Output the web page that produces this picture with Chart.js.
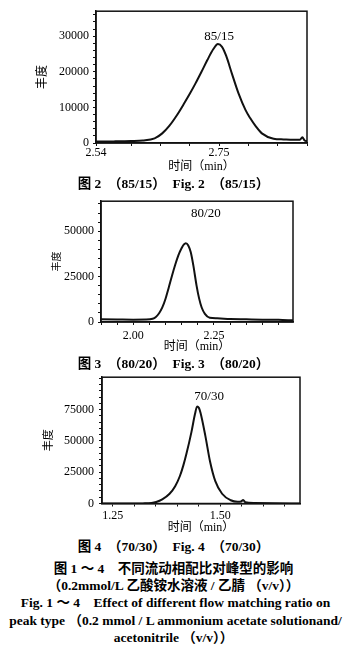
<!DOCTYPE html>
<html>
<head>
<meta charset="utf-8">
<script src="https://cdn.jsdelivr.net/npm/chart.js"></script>
<style>
body{margin:0;background:#fff;width:351px;height:647px;position:relative;overflow:hidden}
canvas{position:absolute;left:0}
.cap{position:absolute;left:0;width:351px;text-align:center;font:bold 13px "Liberation Serif","Noto Sans CJK SC";line-height:16px;white-space:pre;color:#000}
.big{font-size:13.5px}
</style>
</head>
<body>
<canvas id="c1" width="351" height="175" style="top:0"></canvas>
<canvas id="c2" width="351" height="165" style="top:190px"></canvas>
<canvas id="c3" width="351" height="170" style="top:365px"></canvas>

<div class="cap big" style="top:176px;left:-2px">图 2　（85/15）　Fig. 2　（85/15）</div>
<div class="cap big" style="top:356px;left:-2px">图 3　（80/20）　Fig. 3　（80/20）</div>
<div class="cap big" style="top:539px;left:-2px">图 4　（70/30）　Fig. 4　（70/30）</div>
<div class="cap big" style="top:561px;left:-2px">图 1 ～ 4　不同流动相配比对峰型的影响</div>
<div class="cap big" style="top:578px;left:-2px">（0.2mmol/L 乙酸铵水溶液 / 乙腈 （v/v））</div>
<div class="cap big" style="top:595px">Fig. 1 ～ 4　Effect of different flow matching ratio on</div>
<div class="cap big" style="top:613px">peak type （0.2 mmol / L ammonium acetate solutionand/</div>
<div class="cap big" style="top:630px;left:-2px">acetonitrile （v/v））</div>

<script>
// 85/15
var time1 = [2.54,2.57,2.60,2.62,2.64,2.653,2.665,2.678,2.69,2.70,2.71,2.72,2.73,2.74,2.748,2.755,2.762,2.772,2.783,2.795,2.803,2.813,2.823,2.843,2.86,2.877,2.888,2.892,2.896,2.90];
var abund1 = [400,450,550,700,1300,2700,4800,7800,11000,13800,16800,20000,23300,26300,27800,27000,24500,19400,14000,9300,7000,4600,2700,1200,1000,900,900,1600,700,500];
// 80/20
var time2 = [1.90,1.95,2.00,2.04,2.06,2.07,2.08,2.09,2.10,2.11,2.12,2.13,2.14,2.15,2.157,2.163,2.170,2.178,2.186,2.196,2.204,2.212,2.222,2.237,2.26,2.30,2.35,2.40,2.45,2.495];
var abund2 = [1500,1400,1300,1350,1800,2800,4800,8000,12800,19000,25500,31500,36800,40700,42700,43400,42300,38500,31300,20200,13000,8000,4500,2300,2000,1700,1500,1300,1200,900];
// 70/30
var time3 = [1.225,1.28,1.32,1.34,1.351,1.365,1.382,1.395,1.406,1.414,1.421,1.433,1.441,1.446,1.450,1.454,1.465,1.476,1.488,1.504,1.524,1.540,1.548,1.553,1.558,1.58,1.62,1.685];
var abund3 = [0,0,100,400,1200,3300,7800,13800,22000,30500,39500,57500,71500,77600,76500,72400,54300,33600,18100,7800,2600,1400,1600,2800,1000,400,200,0];

var xLabels1 = [2.54, 2.75];
var xLabels2 = [2.00, 2.25];
var xLabels3 = [1.25, 1.50];
var yLabels1 = [0, 10000, 20000, 30000];
var yLabels2 = [0, 25000, 50000];
var yLabels3 = [0, 25000, 50000, 75000];
var ratios = ['85/15', '80/20', '70/30'];

var serif = '"Liberation Serif", "Noto Sans CJK SC"';

var framePlugin = {
    id: 'frame',
    afterDraw: function(chart) {
        var ctx = chart.ctx, a = chart.chartArea;
        var o = chart.options.plugins.frame;
        ctx.save();
        ctx.strokeStyle = '#111';
        ctx.lineWidth = 1.5;
        ctx.strokeRect(a.left, a.top, a.right - a.left, a.bottom - a.top);
        ctx.font = '13px ' + serif;
        ctx.fillStyle = '#000';
        ctx.textAlign = 'center';
        ctx.textBaseline = 'middle';
        ctx.fillText(o.text, chart.scales.x.getPixelForValue(o.x), chart.scales.y.getPixelForValue(o.y));
        ctx.restore();
    }
};

function near(list, v) {
    return list.some(function(m) { return Math.abs(m - v) < 1e-6; });
}

function tickList(first, last, step, majors) {
    var t = [];
    for (var v = first; v <= last + 1e-9; v += step) t.push(Math.round(v * 1e6) / 1e6);
    majors.forEach(function(m) { if (!near(t, m)) t.push(m); });
    t.sort(function(a, b) { return a - b; });
    return t.map(function(v) { return {value: v}; });
}

function makeChart(id, c) {
    var pts = c.xs.map(function(x, i) { return {x: x, y: c.ys[i]}; });
    return new Chart(document.getElementById(id).getContext('2d'), {
        type: 'line',
        data: {
            datasets: [{
                data: pts,
                borderColor: '#111',
                borderWidth: 2,
                pointRadius: 0,
                fill: false,
                cubicInterpolationMode: 'monotone'
            }]
        },
        plugins: [framePlugin],
        options: {
            responsive: false,
            animation: false,
            layout: {padding: c.pad},
            plugins: {
                legend: {display: false},
                tooltip: {enabled: false},
                frame: {text: c.name, x: c.nameX, y: c.nameY}
            },
            scales: {
                x: {
                    type: 'linear',
                    min: c.xMin,
                    max: c.xMax,
                    afterBuildTicks: function(s) { s.ticks = tickList(c.xFirst, c.xMax, c.xStep, c.xMajor); },
                    afterFit: function(s) { s.height = c.xHeight; },
                    grid: {drawOnChartArea: false, tickLength: 3, color: '#111'},
                    border: {color: '#111', width: 1.5},
                    ticks: {
                        autoSkip: false,
                        maxRotation: 0,
                        padding: c.xPad,
                        color: '#000',
                        font: {family: serif, size: 12},
                        callback: function(v) { return near(c.xMajor, v) ? v.toFixed(2) : ''; }
                    },
                    title: {
                        display: true,
                        text: '时间（min）',
                        color: '#000',
                        font: {family: serif, size: 12},
                        padding: {top: 0, bottom: c.xTitlePad}
                    }
                },
                y: {
                    min: 0,
                    max: c.yMax,
                    afterBuildTicks: function(s) { s.ticks = tickList(0, c.yMax, c.yStep, c.yMajor); },
                    afterFit: function(s) { s.width = c.yWidth; },
                    grid: {drawOnChartArea: false, tickLength: 3, color: '#111'},
                    border: {color: '#111', width: 1.5},
                    ticks: {
                        autoSkip: false,
                        padding: c.yPad,
                        color: '#000',
                        font: {family: serif, size: 12},
                        callback: function(v) { return near(c.yMajor, v) ? String(v) : ''; }
                    },
                    title: {
                        display: true,
                        text: '丰度',
                        color: '#000',
                        font: {family: serif, size: c.yTitleSize},
                        padding: 0
                    }
                }
            }
        }
    });
}

makeChart('c1', {
    xs: time1, ys: abund1, name: ratios[0], nameX: 2.75, nameY: 30000,
    xMin: 2.54, xMax: 2.90, xFirst: 2.60, xStep: 0.05, xMajor: xLabels1,
    yMax: 37000, yStep: 2000, yMajor: yLabels1,
    pad: {left: 36, right: 44, top: 4, bottom: 0},
    yWidth: 60, xHeight: 32, xPad: 0, yPad: 4, xTitlePad: 1, yTitleSize: 12
});

makeChart('c2', {
    xs: time2, ys: abund2, name: ratios[1], nameX: 2.225, nameY: 59900,
    xMin: 1.90, xMax: 2.495, xFirst: 1.90, xStep: 0.05, xMajor: xLabels2,
    yMax: 66500, yStep: 5000, yMajor: yLabels2,
    pad: {left: 51, right: 58, top: 11, bottom: 0},
    yWidth: 50, xHeight: 33, xPad: 4, yPad: 4, xTitlePad: 1, yTitleSize: 10
});

makeChart('c3', {
    xs: time3, ys: abund3, name: ratios[2], nameX: 1.474, nameY: 85600,
    xMin: 1.225, xMax: 1.685, xFirst: 1.25, xStep: 0.05, xMajor: xLabels3,
    yMax: 101000, yStep: 5000, yMajor: yLabels3,
    pad: {left: 43, right: 51, top: 7, bottom: 0},
    yWidth: 59, xHeight: 31.5, xPad: 2, yPad: 5, xTitlePad: 0, yTitleSize: 11
});
</script>
</body>
</html>
